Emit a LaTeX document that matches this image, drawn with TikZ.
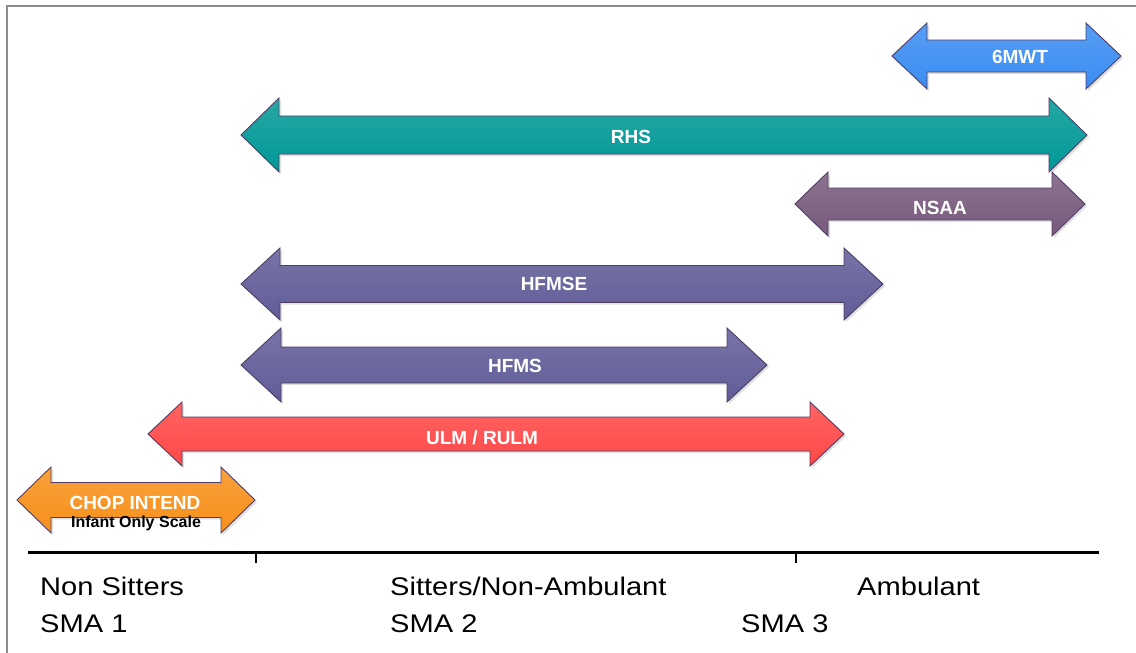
\documentclass[tikz,border=0pt]{standalone}
\usepackage{fontspec}
\setmainfont{Liberation Sans}
\usetikzlibrary{shadows}
\definecolor{csix}{HTML}{3A8CF2}
\definecolor{crhs}{HTML}{009896}
\definecolor{cnsaa}{HTML}{785A7C}
\definecolor{chfm}{HTML}{605C97}
\definecolor{culm}{HTML}{FF4848}
\definecolor{cchop}{HTML}{F7901A}
\definecolor{arrline}{HTML}{4F3D66}
\definecolor{frame}{HTML}{8C8C8C}
\newcommand{\dblarrow}[7]{%
\path[#1] (#2,#4) -- ({#2+#7},{#4-#5}) -- ({#2+#7},{#4-#6}) -- ({#3-#7},{#4-#6}) -- ({#3-#7},{#4-#5}) -- (#3,#4) -- ({#3-#7},{#4+#5}) -- ({#3-#7},{#4+#6}) -- ({#2+#7},{#4+#6}) -- ({#2+#7},{#4+#5}) -- cycle;}
\begin{document}
\begin{tikzpicture}[x=1pt,y=-1pt,
  arr/.style={draw=arrline, line width=0.9pt, line join=miter,
    top color=#1!85!white, bottom color=#1,
    drop shadow={opacity=0.25, shadow xshift=2pt, shadow yshift=-2pt}},
  lbl/.style={text=white, font=\fontsize{19}{22}\selectfont\bfseries, inner sep=0pt},
  sublbl/.style={text=black, font=\fontsize{16}{18}\selectfont\bfseries, inner sep=0pt},
  axlbl/.style={font=\fontsize{25.5}{30}\selectfont, anchor=base west, inner sep=0pt, xscale=1.14},
  axis/.style={line width=3pt, black},
  tick/.style={line width=1.5pt, black}]
\useasboundingbox (0,0) rectangle (1136,653);
\fill[white] (0,0) rectangle (1136,653);
\draw[frame, line width=2pt] (7,653) -- (7,6) -- (1136,6);

% arrows: style, x left, x right, y centre, half head, half shaft, head length
\dblarrow{arr=csix}{892}{1121}{56}{33}{16}{35}
\dblarrow{arr=crhs}{241}{1087}{135}{37}{19}{38}
\dblarrow{arr=cnsaa}{795}{1085}{204}{32}{16}{33}
\dblarrow{arr=chfm}{241}{883}{284}{36}{18.5}{39}
\dblarrow{arr=chfm}{241}{767}{365}{37}{18}{40}
\dblarrow{arr=culm}{148}{844}{434}{32}{17}{34}
\dblarrow{arr=cchop}{17}{255}{500}{33}{17.5}{34}

\node[lbl] (l6mwt) at (1020,57) {6MWT};
\node[lbl] (lrhs) at (631,137) {RHS};
\node[lbl] (lnsaa) at (940,208) {NSAA};
\node[lbl] (lhfmse) at (554,284) {HFMSE};
\node[lbl] (lhfms) at (515,366) {HFMS};
\node[lbl] (lulm) at (482,438) {ULM / RULM};
\node[lbl] (lchop) at (135,503) {CHOP INTEND};
\node[sublbl] (lsub) at (136,523) {Infant Only Scale};

% axis
\coordinate (axl) at (28,552);
\coordinate (axr) at (1099,552);
\draw[axis] (axl) -- (axr);
\coordinate (t1) at (256,552);
\coordinate (t1b) at (256,563);
\coordinate (t2) at (796,552);
\coordinate (t2b) at (796,563);
\draw[tick] (t1) -- (t1b);
\draw[tick] (t2) -- (t2b);

\node[axlbl] (ns) at (40,595) {Non Sitters};
\node[axlbl] (sma1) at (40,632) {SMA 1};
\node[axlbl] (sit) at (390,595) {Sitters/Non-Ambulant};
\node[axlbl] (sma2) at (390,632) {SMA 2};
\node[axlbl] (amb) at (857,595) {Ambulant};
\node[axlbl] (sma3) at (741,632) {SMA 3};
\end{tikzpicture}
\end{document}
